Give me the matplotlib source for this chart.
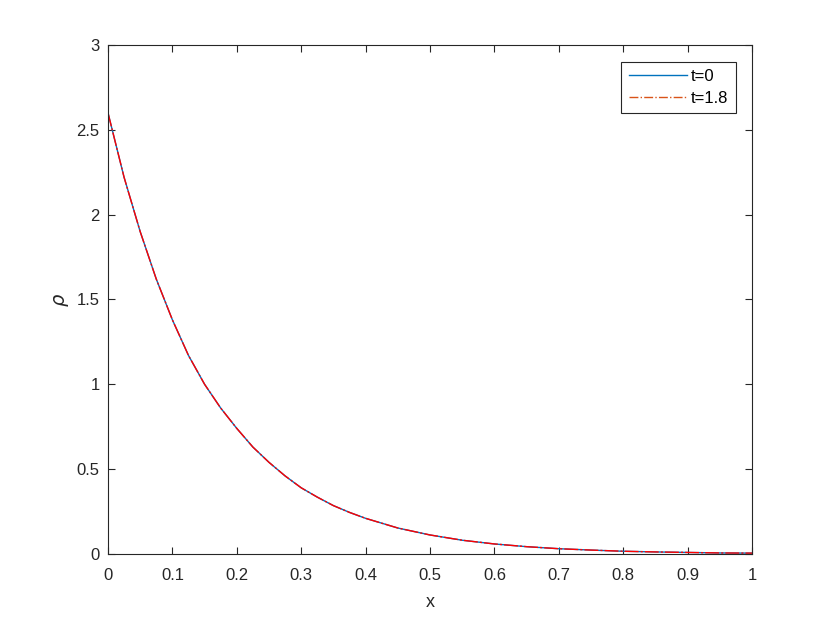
import matplotlib
matplotlib.use("Agg")
import matplotlib.pyplot as plt
from matplotlib.lines import Line2D

x_vals = [0.0, 0.025, 0.05, 0.075, 0.1, 0.125, 0.15, 0.175, 0.2, 0.225, 0.25,
          0.275, 0.3, 0.325, 0.35, 0.375, 0.4, 0.45, 0.5, 0.55, 0.6, 0.65,
          0.7, 0.75, 0.8, 0.85, 0.9, 0.95, 1.0]
rho_t0 = [2.60, 2.22, 1.90, 1.62, 1.38, 1.17, 1.00, 0.86, 0.74, 0.63, 0.54,
          0.46, 0.39, 0.335, 0.285, 0.245, 0.21, 0.153, 0.112, 0.081, 0.059,
          0.043, 0.031, 0.023, 0.016, 0.012, 0.009, 0.006, 0.005]
rho_t18 = [2.60, 2.22, 1.90, 1.62, 1.38, 1.17, 1.00, 0.86, 0.74, 0.63, 0.54,
           0.46, 0.39, 0.335, 0.285, 0.245, 0.21, 0.153, 0.112, 0.081, 0.059,
           0.043, 0.031, 0.023, 0.016, 0.012, 0.009, 0.006, 0.005]
labels = ["t=0", "t=1.8"]
x_ticks = [0, 0.1, 0.2, 0.3, 0.4, 0.5, 0.6, 0.7, 0.8, 0.9, 1]
x_tick_labels = ["0", "0.1", "0.2", "0.3", "0.4", "0.5", "0.6", "0.7", "0.8", "0.9", "1"]
y_ticks = [0, 0.5, 1, 1.5, 2, 2.5, 3]
y_tick_labels = ["0", "0.5", "1", "1.5", "2", "2.5", "3"]

plt.rcParams['font.family'] = ['Liberation Sans', 'DejaVu Sans']
fig = plt.figure(figsize=(8.3, 6.23), dpi=100)
ax = fig.add_axes([0.1301, 0.1108, 0.776, 0.817])

blue = '#0072BD'
orange = '#D95319'
ax.plot(x_vals, rho_t0, color=blue, lw=1.0)
ax.plot(x_vals, rho_t18, color='red', lw=1.0, dashes=(10, 1.5, 1.5, 1.5))

ax.set_xlim(0, 1)
ax.set_ylim(0, 3)
ax.set_xticks(x_ticks)
ax.set_xticklabels(x_tick_labels)
ax.set_yticks(y_ticks)
ax.set_yticklabels(y_tick_labels)
axcol = '#262626'
ax.tick_params(direction='in', top=True, right=True, length=5, width=0.8,
               colors=axcol, labelsize=12)
ax.tick_params(axis='x', pad=10)
ax.tick_params(axis='y', pad=6)
for s in ax.spines.values():
    s.set_color(axcol)
    s.set_linewidth(0.8)
ax.set_xlabel('x', fontsize=13, color=axcol, labelpad=8)
ax.set_ylabel(r'$\rho$', fontsize=14, color=axcol, labelpad=4)

handles = [Line2D([], [], color=blue, lw=1.0),
           Line2D([], [], color=orange, lw=1.0, linestyle='-.')]
leg = ax.legend(handles, labels, loc='upper right', fontsize=12, frameon=True,
                fancybox=False, edgecolor=axcol, framealpha=1, handlelength=3.5,
                handletextpad=0.25, borderpad=0.45, labelspacing=0.4,
                bbox_to_anchor=(0.9752, 0.9673), borderaxespad=0)
leg.get_frame().set_linewidth(0.8)

fig.savefig('out.png', dpi=100)
